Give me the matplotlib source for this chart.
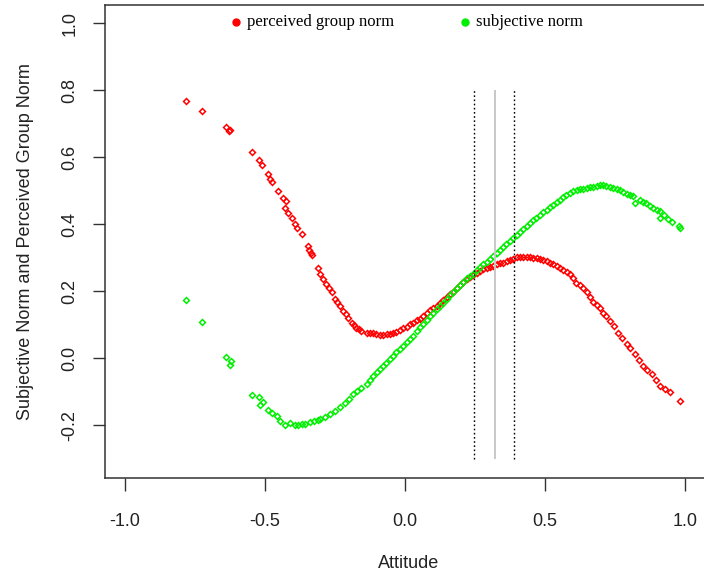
import matplotlib
matplotlib.use("Agg")
import matplotlib.pyplot as plt

RED = "#ff0000"
GREEN = "#00ee00"
INK = "#333333"

# perceived group norm (red points)
PGN_X = [-0.783, -0.725, -0.640, -0.629, -0.623, -0.545, -0.521, -0.512, -0.490, -0.482,
         -0.473, -0.454, -0.436, -0.426, -0.429, -0.417, -0.403, -0.393, -0.385, -0.368,
         -0.345, -0.341, -0.337, -0.330, -0.310, -0.304, -0.292, -0.280, -0.271, -0.262,
         -0.250, -0.243, -0.232, -0.220, -0.211, -0.203, -0.190, -0.182, -0.173, -0.164,
         -0.155, -0.137, -0.125, -0.113, -0.104, -0.089, -0.079, -0.065, -0.054, -0.042,
         -0.032, -0.018, -0.006, 0.006, 0.018, 0.030, 0.042, 0.054, 0.064, 0.078,
         0.089, 0.101, 0.114, 0.125, 0.137, 0.149, 0.161, 0.173, 0.185, 0.196,
         0.207, 0.221, 0.232, 0.244, 0.257, 0.268, 0.280, 0.293, 0.304, 0.315,
         0.329, 0.339, 0.351, 0.364, 0.375, 0.387, 0.400, 0.411, 0.423, 0.436,
         0.446, 0.458, 0.471, 0.482, 0.494, 0.507, 0.518, 0.530, 0.543, 0.554,
         0.565, 0.579, 0.589, 0.601, 0.613, 0.625, 0.636, 0.649, 0.661, 0.673,
         0.686, 0.696, 0.708, 0.720, 0.732, 0.746, 0.762, 0.775, 0.792, 0.804,
         0.821, 0.836, 0.851, 0.864, 0.881, 0.896, 0.911, 0.929, 0.946, 0.982]
PGN_Y = [0.766, 0.739, 0.691, 0.679, 0.682, 0.616, 0.592, 0.577, 0.550, 0.536,
         0.527, 0.498, 0.479, 0.468, 0.449, 0.434, 0.419, 0.399, 0.389, 0.369,
         0.334, 0.324, 0.315, 0.307, 0.270, 0.250, 0.235, 0.220, 0.208, 0.196,
         0.176, 0.167, 0.156, 0.141, 0.131, 0.121, 0.106, 0.098, 0.091, 0.086,
         0.081, 0.076, 0.074, 0.074, 0.071, 0.069, 0.070, 0.071, 0.071, 0.074,
         0.079, 0.084, 0.091, 0.094, 0.101, 0.106, 0.115, 0.118, 0.126, 0.134,
         0.143, 0.148, 0.156, 0.164, 0.173, 0.181, 0.190, 0.197, 0.210, 0.217,
         0.226, 0.235, 0.241, 0.247, 0.253, 0.259, 0.265, 0.269, 0.272, 0.275,
         0.280, 0.283, 0.285, 0.290, 0.293, 0.297, 0.301, 0.302, 0.303, 0.302,
         0.301, 0.300, 0.298, 0.295, 0.293, 0.289, 0.284, 0.280, 0.274, 0.269,
         0.263, 0.256, 0.250, 0.238, 0.225, 0.217, 0.208, 0.196, 0.182, 0.166,
         0.158, 0.149, 0.136, 0.125, 0.111, 0.095, 0.076, 0.060, 0.042, 0.030,
         0.012, -0.006, -0.023, -0.036, -0.048, -0.065, -0.082, -0.092, -0.102, -0.127]

# subjective norm (green points)
SN_X = [-0.783, -0.725, -0.639, -0.621, -0.626, -0.545, -0.521, -0.508, -0.518, -0.488,
        -0.476, -0.455, -0.446, -0.429, -0.411, -0.393, -0.381, -0.369, -0.357, -0.339,
        -0.325, -0.310, -0.304, -0.286, -0.268, -0.250, -0.232, -0.214, -0.200, -0.185,
        -0.171, -0.157, -0.137, -0.125, -0.114, -0.101, -0.089, -0.079, -0.068, -0.054,
        -0.043, -0.030, -0.018, -0.006, 0.006, 0.018, 0.030, 0.042, 0.054, 0.064,
        0.078, 0.089, 0.101, 0.114, 0.125, 0.137, 0.149, 0.161, 0.173, 0.185,
        0.196, 0.207, 0.221, 0.232, 0.244, 0.257, 0.268, 0.280, 0.292, 0.304,
        0.315, 0.328, 0.339, 0.351, 0.363, 0.375, 0.387, 0.399, 0.411, 0.423,
        0.436, 0.446, 0.458, 0.470, 0.482, 0.494, 0.506, 0.518, 0.530, 0.542,
        0.554, 0.565, 0.577, 0.589, 0.601, 0.614, 0.625, 0.637, 0.649, 0.661,
        0.673, 0.686, 0.696, 0.708, 0.720, 0.732, 0.744, 0.756, 0.768, 0.780,
        0.792, 0.804, 0.815, 0.821, 0.839, 0.851, 0.863, 0.875, 0.887, 0.899,
        0.911, 0.911, 0.925, 0.940, 0.954, 0.979, 0.982]
SN_Y = [0.173, 0.108, 0.004, -0.008, -0.021, -0.110, -0.117, -0.130, -0.140, -0.154,
        -0.164, -0.174, -0.187, -0.199, -0.193, -0.199, -0.201, -0.197, -0.198, -0.191,
        -0.189, -0.185, -0.182, -0.176, -0.167, -0.158, -0.147, -0.134, -0.122, -0.107,
        -0.098, -0.089, -0.077, -0.065, -0.054, -0.043, -0.033, -0.024, -0.015, -0.003,
        0.006, 0.018, 0.027, 0.037, 0.048, 0.057, 0.066, 0.080, 0.092, 0.101,
        0.113, 0.125, 0.135, 0.146, 0.155, 0.165, 0.176, 0.188, 0.198, 0.208,
        0.217, 0.226, 0.238, 0.244, 0.250, 0.262, 0.271, 0.280, 0.286, 0.295,
        0.305, 0.315, 0.324, 0.333, 0.341, 0.349, 0.359, 0.368, 0.376, 0.386,
        0.394, 0.402, 0.411, 0.419, 0.427, 0.435, 0.443, 0.451, 0.458, 0.466,
        0.473, 0.481, 0.488, 0.493, 0.498, 0.501, 0.504, 0.506, 0.508, 0.510,
        0.512, 0.515, 0.516, 0.518, 0.515, 0.512, 0.507, 0.504, 0.503, 0.497,
        0.491, 0.487, 0.483, 0.463, 0.472, 0.467, 0.463, 0.455, 0.448, 0.442,
        0.438, 0.419, 0.426, 0.414, 0.405, 0.394, 0.389]

# confidence band markers: lower bound, estimate, upper bound
CI_LOW, ESTIMATE, CI_HIGH = 0.248, 0.321, 0.389
VLINE_FROM, VLINE_TO = -0.3, 0.8

X_TICKS = [-1.0, -0.5, 0.0, 0.5, 1.0]
Y_TICKS = [-0.2, 0.0, 0.2, 0.4, 0.6, 0.8, 1.0]
LEGEND = ["perceived group norm", "subjective norm"]

plt.rcParams["font.family"] = ["Liberation Sans", "DejaVu Sans"]

fig = plt.figure(figsize=(7.04, 5.73), dpi=100)
# right edge of the box sits just outside the picture, as in the original crop
ax = fig.add_axes([105 / 704, (573 - 478) / 573, 607 / 704, 473 / 573])

pt = dict(linestyle="none", marker="D", ms=3.0, mfc="none", mew=1.1)
ax.plot(PGN_X, PGN_Y, mec=RED, **pt)
ax.plot(SN_X, SN_Y, mec=GREEN, **pt)

ax.vlines([CI_LOW, CI_HIGH], VLINE_FROM, VLINE_TO, colors="black",
          linestyles=(0, (1.2, 1.8)), linewidth=1.0)
ax.vlines([ESTIMATE], VLINE_FROM, VLINE_TO, colors="#c8c8c8", linewidth=1.4)

ax.set_xlim(-1.071, 1.097)
ax.set_ylim(-0.358, 1.054)
ax.set_xticks(X_TICKS, [f"{v:.1f}" for v in X_TICKS])
ax.set_yticks(Y_TICKS, [f"{v:.1f}" for v in Y_TICKS], rotation=90, va="center")
ax.tick_params(direction="out", length=9, width=1.0, color=INK,
               labelsize=13, labelcolor="#222222")
ax.tick_params(axis="x", pad=16)
ax.tick_params(axis="y", pad=10)
for s in ax.spines.values():
    s.set_color(INK)
    s.set_linewidth(1.1)

ax.set_xlabel("Attitude", fontsize=13, color="#222222", labelpad=18)
ax.set_ylabel("Subjective Norm and Perceived Group Norm", fontsize=13,
              color="#222222", labelpad=20)

# legend row drawn in data space along the top of the box
for lx, col, lab in [(-0.604, RED, LEGEND[0]), (0.214, GREEN, LEGEND[1])]:
    ax.plot([lx], [1.003], linestyle="none", marker="o", ms=5, color=col,
            clip_on=False)
    ax.text(lx + 0.039, 1.003, lab, va="center", ha="left", fontsize=12,
            family=["Liberation Serif", "DejaVu Serif"], color="#000000")

fig.savefig("out.png", dpi=100, facecolor="white")
